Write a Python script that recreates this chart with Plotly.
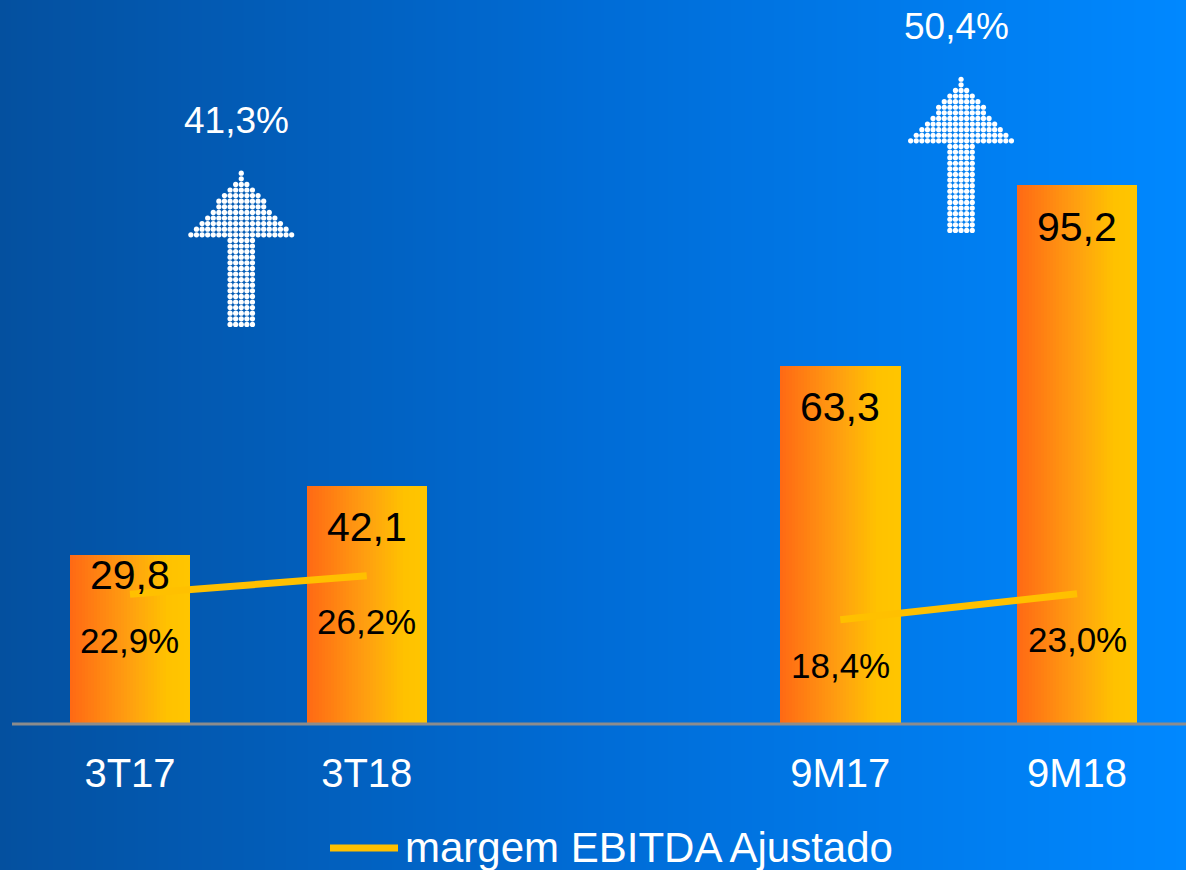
import plotly.graph_objects as go

# data
categories = ['3T17', '3T18', '9M17', '9M18']
positions = [0, 1, 3, 4]          # gap between the quarter and nine-month groups
ebitda = [29.8, 42.1, 63.3, 95.2]
margin = [22.9, 26.2, 18.4, 23.0]
growth = [41.3, 50.4]
growth_pos = [0.47, 3.51]
legend_name = 'margem EBITDA Ajustado'

W, H = 1186, 870
FONT = 'Arial, Liberation Sans, sans-serif'
x_range = [-0.549, 4.46]
y_range = [-25.8, 127.9]
px_x = W / (x_range[1] - x_range[0])
px_y = H / (y_range[1] - y_range[0])


def br(v, pct=False):
    s = f'{v:.1f}'.replace('.', ',')
    return s + '%' if pct else s


def lerp_color(t):
    stops = [(0.0, (255, 106, 20)), (0.5, (255, 160, 16)), (0.82, (255, 194, 0)), (1.0, (255, 197, 0))]
    for (t0, c0), (t1, c1) in zip(stops, stops[1:]):
        if t <= t1:
            f = (t - t0) / (t1 - t0)
            return 'rgb(%d,%d,%d)' % tuple(round(a + (b - a) * f) for a, b in zip(c0, c1))
    return 'rgb(255,197,0)'


fig = go.Figure()

# blue gradient background
fig.add_trace(go.Heatmap(
    x=x_range, y=y_range, z=[[0, 1], [0, 1]],
    zsmooth='best', showscale=False, hoverinfo='skip',
    colorscale=[[0, '#04509F'], [0.5, '#006CD6'], [1, '#0088FF']]
))

# bars with horizontal orange -> yellow gradient, drawn as thin slices
bar_w = 0.507
n_slices = 40
sw = bar_w / n_slices
for i in range(n_slices):
    off = -bar_w / 2 + sw * (i + 0.5)
    fig.add_trace(go.Bar(
        x=[p + off for p in positions], y=ebitda,
        width=sw * 1.15, marker_color=lerp_color(i / (n_slices - 1)),
        marker_line_width=0, hoverinfo='skip', showlegend=False
    ))

# margin line, two separate segments
line_x, line_y = [], []
for k, (p, m) in enumerate(zip(positions, margin)):
    if k == 2:
        line_x.append(None)
        line_y.append(None)
    line_x.append(p)
    line_y.append(m)
fig.add_trace(go.Scatter(
    x=line_x, y=line_y, mode='lines', connectgaps=False,
    line=dict(color='#FFC000', width=7), hoverinfo='skip', showlegend=False
))


# dotted up-arrows
def arrow_dots(cx, tip):
    xs, ys = [], []
    head_w, head_h, stem_w, stem_h, step = 104, 64, 23, 90, 5.6
    r = 0
    while r * step <= head_h + stem_h:
        dy = r * step
        half = (dy / head_h) * head_w / 2 if dy <= head_h else stem_w / 2
        k = 0
        cols = [0]
        while (k + 1) * step <= half + 0.5:
            k += 1
            cols += [k, -k]
        for c in cols:
            xs.append(cx + c * step / px_x)
            ys.append(tip - dy / px_y)
        r += 1
    return xs, ys


arrow_tips = [97.3, 113.9]
ax, ay = [], []
for gx, tip in zip(growth_pos, arrow_tips):
    xs, ys = arrow_dots(gx, tip)
    ax += xs
    ay += ys
fig.add_trace(go.Scatter(
    x=ax, y=ay, mode='markers', hoverinfo='skip', showlegend=False,
    marker=dict(size=5.2, color='white', line_width=0)
))

annotations = []
value_shift = [-20, -41, -41, -42]
for p, v, s in zip(positions, ebitda, value_shift):
    annotations.append(dict(x=p, y=v, yshift=s, text=br(v), showarrow=False,
                            font=dict(size=41, color='black', family=FONT)))
for p, m in zip(positions, margin):
    annotations.append(dict(x=p, y=m, yshift=-46, text=br(m, True), showarrow=False,
                            font=dict(size=35, color='black', family=FONT)))
for gx, tip, g in zip(growth_pos, arrow_tips, growth):
    annotations.append(dict(x=gx, y=tip, xshift=-5, yshift=53, text=br(g, True), showarrow=False,
                            font=dict(size=37, color='white', family=FONT)))

# legend drawn by hand (long line sample)
annotations.append(dict(xref='paper', yref='paper', x=403 / W, y=1 - 847 / H,
                        xanchor='left', yanchor='middle', text=legend_name, showarrow=False,
                        font=dict(size=42, color='white', family=FONT)))

shapes = [
    dict(type='line', xref='paper', yref='y', x0=12 / W, x1=1, y0=0, y1=0,
         line=dict(color='#8C8C8C', width=3)),
    dict(type='line', xref='paper', yref='paper', x0=330 / W, x1=398 / W,
         y0=1 - 848 / H, y1=1 - 848 / H, line=dict(color='#FFC000', width=7)),
]

fig.update_layout(
    width=W, height=H,
    margin=dict(l=0, r=0, t=0, b=0),
    paper_bgcolor='#0060C0', plot_bgcolor='rgba(0,0,0,0)',
    barmode='overlay', bargap=0,
    showlegend=False,
    annotations=annotations, shapes=shapes,
    xaxis=dict(range=x_range, showgrid=False, zeroline=False, showline=False,
               tickvals=positions, ticktext=categories, ticks='',
               anchor='free', position=(H - 724) / H, ticklabelstandoff=22,
               tickfont=dict(size=40, color='white', family=FONT), fixedrange=True),
    yaxis=dict(range=y_range, showgrid=False, zeroline=False, showticklabels=False,
               fixedrange=True),
)

fig.write_html('out.html', config={'displayModeBar': False},
               post_script="document.body.style.margin='0';")
